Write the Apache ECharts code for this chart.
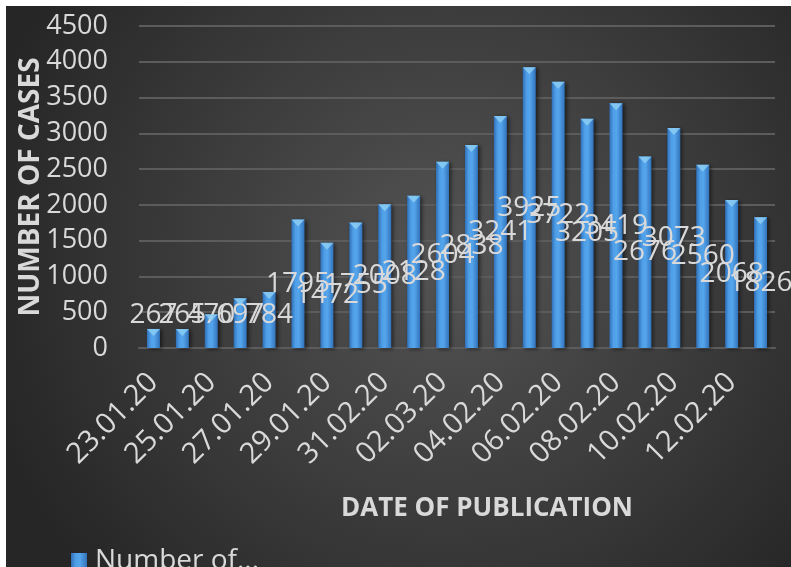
<!DOCTYPE html>
<html>
<head>
<meta charset="utf-8">
<script src="https://cdn.jsdelivr.net/npm/echarts@6/dist/echarts.min.js"></script>
<style>
  html, body { margin: 0; padding: 0; background: #ffffff; overflow: hidden; }
  #chart { position: absolute; left: 6px; top: 6px; width: 785px; height: 561px; }
</style>
</head>
<body>
<div id="chart"></div>
<script>
// ---- data ----
const categories = ['23.01.20','24.01.20','25.01.20','26.01.20','27.01.20','28.01.20','29.01.20','30.01.20','31.02.20','01.02.20','02.03.20','03.02.20','04.02.20','05.02.20','06.02.20','07.02.20','08.02.20','09.02.20','10.02.20','11.02.20','12.02.20','13.02.20'];
const cases = [267, 265, 470, 697, 784, 1795, 1472, 1755, 2008, 2128, 2604, 2838, 3241, 3925, 3722, 3205, 3419, 2676, 3073, 2560, 2068, 1826];
const seriesName = 'Number of cases';
const legendLabel = 'Number of...';
const yAxisTitle = 'NUMBER OF CASES';
const xAxisTitle = 'DATE OF PUBLICATION';
const yMin = 0, yMax = 4500, yStep = 500;

const FONT = 'Open Sans';
const TXT = '#d9d9d9';

const barColor = {
  type: 'linear', x: 0, y: 0, x2: 1, y2: 0,
  colorStops: [
    { offset: 0, color: '#3070b8' },
    { offset: 0.3, color: '#4f9fe8' },
    { offset: 0.55, color: '#55a5ec' },
    { offset: 1, color: '#3173bb' }
  ]
};

const chart = echarts.init(document.getElementById('chart'), null, { renderer: 'canvas' });
chart.setOption({
  animation: false,
  backgroundColor: {
    type: 'radial', x: 0.56, y: 0.45, r: 0.85,
    colorStops: [
      { offset: 0, color: '#545454' },
      { offset: 1, color: '#262626' }
    ]
  },
  textStyle: { fontFamily: FONT },
  grid: { left: 133, right: 16, top: 20, bottom: 219, containLabel: false, outerBoundsMode: 'none' },
  legend: {
    left: 60, top: 536,
    itemWidth: 16, itemHeight: 16, itemGap: 9,
    data: [{ name: seriesName, icon: 'rect' }],
    formatter: () => legendLabel,
    textStyle: { color: TXT, fontSize: 28, fontFamily: FONT, padding: [0, 0, 0, 3] }
  },
  xAxis: {
    type: 'category',
    data: categories,
    name: xAxisTitle,
    nameLocation: 'middle',
    nameGap: 148,
    nameTextStyle: { color: TXT, fontSize: 26, fontWeight: 'bold', fontFamily: FONT, padding: [0, 0, 0, 60] },
    axisLine: { show: true, lineStyle: { color: '#5c5c5c', width: 2 } },
    axisTick: { show: false },
    axisLabel: { interval: 1, rotate: 45, margin: 30, color: TXT, fontSize: 29, fontFamily: FONT }
  },
  yAxis: {
    type: 'value',
    min: yMin, max: yMax, interval: yStep,
    name: yAxisTitle,
    nameLocation: 'middle',
    nameGap: 94,
    nameMoveOverlap: false,
    nameTextStyle: { color: TXT, fontSize: 28, fontWeight: 'bold', fontFamily: FONT },
    axisLine: { show: false },
    axisTick: { show: false },
    axisLabel: { margin: 31, color: TXT, fontSize: 27, fontFamily: FONT, formatter: (v) => String(v) },
    splitLine: { lineStyle: { color: '#5c5c5c', width: 2 } }
  },
  series: [
    {
      name: seriesName,
      type: 'bar',
      data: cases,
      barWidth: 13,
      itemStyle: {
        color: barColor,
        shadowColor: 'rgba(0,0,0,0.55)', shadowBlur: 4, shadowOffsetX: 2, shadowOffsetY: 1
      },
      label: {
        show: true, position: 'inside',
        color: TXT, fontSize: 28, fontFamily: FONT,
        textBorderWidth: 0
      },
      labelLayout: function (p) {
        const bottom = p.rect.y + p.rect.height;
        const mid = p.rect.y + p.rect.height / 2;
        return { dy: Math.min(0, bottom - 33 - mid) };
      },
      z: 2
    },
    {
      name: 'cap',
      type: 'scatter',
      data: cases,
      symbol: 'triangle',
      symbolRotate: 180,
      symbolSize: [13, 7],
      symbolOffset: [0, '50%'],
      itemStyle: { color: '#8ed0f4' },
      silent: true,
      z: 3
    }
  ]
});
</script>
</body>
</html>
